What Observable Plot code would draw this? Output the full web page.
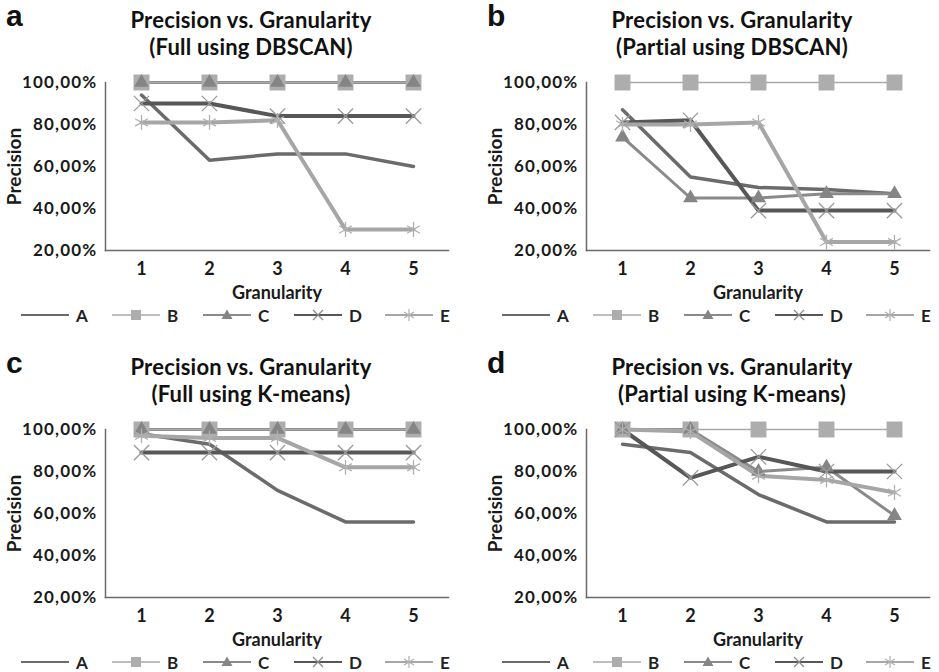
<!DOCTYPE html>
<html><head><meta charset="utf-8">
<script src="https://cdn.jsdelivr.net/npm/d3@7"></script>
<script src="https://cdn.jsdelivr.net/npm/@observablehq/plot@0.6"></script>
<style>
body{margin:0;background:#fff;}
#page{position:relative;width:939px;height:672px;overflow:hidden;background:#fff;font-family:Lato,"Open Sans",sans-serif;color:#1a1a1a;}
.letter{position:absolute;font:bold 30px "Liberation Sans",Arial,sans-serif;line-height:30px;color:#111;}
.title{position:absolute;width:400px;text-align:center;font-weight:bold;font-size:22px;line-height:27px;color:#111;letter-spacing:0.2px;}
.plot{position:absolute;}
.plot g[aria-label="y-axis tick label"] text{letter-spacing:1.2px;}
.leg{position:absolute;display:flex;align-items:center;font-size:17px;font-weight:bold;color:#222;height:18px;}
.leg svg{margin-right:7px;}
</style></head>
<body><div id="page"></div>
<script>
// ---------- data ----------
const granularity = [1, 2, 3, 4, 5];
const seriesNames = ["A", "B", "C", "D", "E"];
const yTicks = [20, 40, 60, 80, 100];
const panelLetters = ["a", "b", "c", "d"];
const panelSubtitles = ["(Full using DBSCAN)", "(Partial using DBSCAN)", "(Full using K-means)", "(Partial using K-means)"];
const mainTitle = "Precision vs. Granularity";
const xLabel = "Granularity";
const yLabel = "Precision";
// precision in % per series A..E, at granularity 1..5
const fullDBSCAN = [
  [94, 63, 66, 66, 60],
  [100, 100, 100, 100, 100],
  [100, 100, 100, 100, 100],
  [90, 90, 84, 84, 84],
  [81, 81, 82, 30, 30]
];
const partialDBSCAN = [
  [87, 55, 50, 49, 47],
  [100, 100, 100, 100, 100],
  [74, 45, 45, 47, 47],
  [81, 82, 39, 39, 39],
  [80, 80, 81, 24, 24]
];
const fullKmeans = [
  [98, 93, 71, 56, 56],
  [100, 100, 100, 100, 100],
  [100, 100, 100, 100, 100],
  [89, 89, 89, 89, 89],
  [97, 96, 96, 82, 82]
];
const partialKmeans = [
  [93, 89, 69, 56, 56],
  [100, 100, 100, 100, 100],
  [100, 100, 80, 82, 59],
  [100, 77, 87, 80, 80],
  [100, 99, 78, 76, 70]
];
const panelData = [fullDBSCAN, partialDBSCAN, fullKmeans, partialKmeans];

// ---------- styles ----------
const lineColors = ["#6b6b6b", "#a9a9a9", "#8a8a8a", "#575757", "#a6a6a6"];
const lineWidths = [3.5, 1.6, 3, 4, 4];
const markerSymbols = [null, "square", "triangle", "times", "asterisk"];
const markerR = [0, 9, 5.5, 7, 7];
const markerFill = [null, "#adadad", "#858585", "none", "none"];
const markerStroke = [null, "none", "none", "#9a9a9a", "#b0b0b0"];
const lineOrder = [0, 2, 3, 4, 1];
const offsets = [[0, 0], [481, 0], [0, 347], [481, 347]];

const page = document.getElementById("page");

function legendSwatch(i) {
  const c = lineColors[i];
  let m = "";
  if (i === 1) m = `<rect x="19" y="4" width="10" height="10" fill="#adadad"/>`;
  if (i === 2) m = `<path d="M24,3.5 L29.5,13 L18.5,13 Z" fill="#858585"/>`;
  if (i === 3) m = `<path d="M19,4 L29,14 M29,4 L19,14" stroke="#8a8a8a" stroke-width="1.2"/>`;
  if (i === 4) m = `<path d="M24,3 L24,15 M19,6 L29,12 M29,6 L19,12" stroke="#b0b0b0" stroke-width="1.2"/>`;
  return `<svg width="48" height="18"><line x1="0" x2="48" y1="9" y2="9" stroke="${c}" stroke-width="${i===1?1.6:2}"/>${m}</svg>`;
}

panelData.forEach((rows, p) => {
  const [ox, oy] = offsets[p];
  const letter = document.createElement("div");
  letter.className = "letter";
  letter.style.left = (ox + 6) + "px";
  letter.style.top = (oy + 1) + "px";
  letter.textContent = panelLetters[p];
  page.appendChild(letter);

  const title = document.createElement("div");
  title.className = "title";
  title.style.left = (ox + 251 - 200) + "px";
  title.style.top = (oy + 6) + "px";
  title.innerHTML = mainTitle + "<br>" + panelSubtitles[p];
  page.appendChild(title);

  const table = [];
  rows.forEach((vals, s) => vals.forEach((v, k) => table.push({series: seriesNames[s], g: granularity[k], v})));
  const bySeries = seriesNames.map(name => table.filter(d => d.series === name));

  const marks = [
    Plot.frame({anchor: "left", stroke: "#6a6a6a", strokeWidth: 1.5}),
    Plot.frame({anchor: "bottom", stroke: "#6a6a6a", strokeWidth: 1.5}),
    Plot.axisY({ticks: yTicks, tickFormat: d => `${d},00%`, tickSize: 0, tickPadding: 8, fontSize: 17}),
    Plot.axisY({ticks: [], label: yLabel, labelAnchor: "center", labelOffset: 98, labelArrow: "none", fontSize: 19}),
    Plot.axisX({tickSize: 0, tickPadding: 12, fontSize: 18}),
    Plot.axisX({ticks: [], label: xLabel, labelAnchor: "center", labelOffset: 48, labelArrow: "none", fontSize: 18})
  ];
  lineOrder.forEach(s => {
    marks.push(Plot.line(bySeries[s], {x: "g", y: "v", stroke: lineColors[s], strokeWidth: lineWidths[s], strokeLinejoin: "round"}));
  });
  seriesNames.forEach((name, s) => {
    if (markerSymbols[s]) {
      marks.push(Plot.dot(bySeries[s], {x: "g", y: "v", symbol: markerSymbols[s], r: markerR[s],
        fill: markerFill[s], stroke: markerStroke[s], strokeWidth: 1.3}));
    }
  });

  const svg = Plot.plot({
    width: 458, height: 245,
    marginLeft: 105, marginRight: 10, marginTop: 22, marginBottom: 55,
    x: {type: "point", domain: granularity, padding: 0.5, label: null},
    y: {domain: [20, 100], label: null},
    style: {fontFamily: "Lato, 'Open Sans', sans-serif", fontSize: "17px", fontWeight: "bold", color: "#1a1a1a", background: "transparent", overflow: "visible"},
    marks
  });
  svg.classList.add("plot");
  svg.style.left = ox + "px";
  svg.style.top = (oy + 60) + "px";
  page.appendChild(svg);

  seriesNames.forEach((name, s) => {
    const item = document.createElement("div");
    item.className = "leg";
    item.style.left = (ox + 21 + s * 91) + "px";
    item.style.top = (oy + 306) + "px";
    item.innerHTML = legendSwatch(s) + "<span>" + name + "</span>";
    page.appendChild(item);
  });
});
</script></body></html>
